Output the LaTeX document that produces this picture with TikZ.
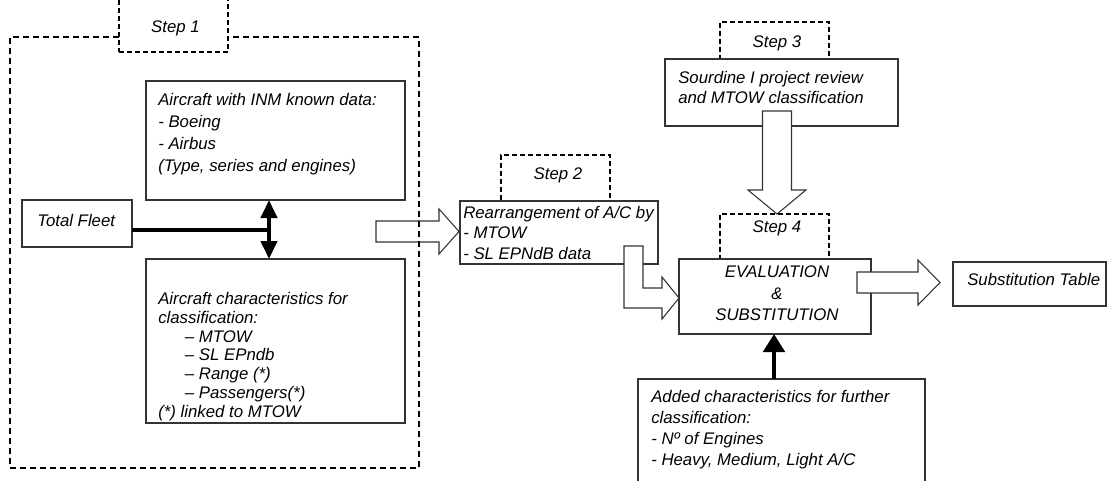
\documentclass[tikz,border=0pt]{standalone}
\usepackage{fontspec}
\setmainfont{Liberation Sans}
\usetikzlibrary{arrows.meta}
\tikzset{
  bigtip/.tip={Triangle[width=12pt,length=13.5pt]},
  widetip/.tip={Triangle[width=16pt,length=13.5pt]},
}

\begin{document}
\begin{tikzpicture}[x=0.75pt, y=-0.75pt,
  box/.style={draw=black!80, line width=0.8pt, fill=white, inner sep=0pt, outer sep=0pt},
  frame/.style={draw=black, line width=1.3pt, dash pattern=on 4.5pt off 3pt, inner sep=0pt, outer sep=0pt},
  tab/.style={draw=black, line width=0.9pt, dash pattern=on 3.5pt off 2.5pt, fill=white, inner sep=0pt, outer sep=0pt},
  sz/.style 2 args={minimum width=#1*0.75pt, minimum height=#2*0.75pt},
  txt/.style={inner sep=0pt, anchor=north west, align=left, font=\itshape\fontsize{12.6}{15.4}\selectfont},
  steplbl/.style={inner sep=0pt, anchor=base, font=\itshape\fontsize{12.6}{15.4}\selectfont},
  blockarrow/.style={draw=black!80, line width=0.8pt, fill=white, line join=miter},
  thick link/.style={line width=3pt, draw=black},
]
\useasboundingbox (0,0) rectangle (1107,480);
\clip (0,0) rectangle (1107,480);

% Step 1 -> Step 2 block arrow (crosses the dashed frame)
\draw[blockarrow, fill=none] (376,221) -- (439,221) -- (439,209) -- (459,231.5)
  -- (439,254) -- (439,242) -- (376,242) -- cycle;

% Step 1 frame and its tab
\node[frame, sz={409}{431}] (frame1) at (214.5,252.5) {};
\node[tab, sz={109}{57}] (tab1) at (173.5,23.5) {};
\node[steplbl] (tab1-t) at (175.5,32) {Step 1};

% Step 1 contents
\node[box, sz={259}{119}] (A) at (275.5,140.5) {};
\node[txt, font=\itshape\fontsize{12.6}{16.5}\selectfont] (A-t) at (158,93)
  {Aircraft with INM known data:\\- Boeing\\- Airbus\\(Type, series and engines)};

\node[box, sz={110}{47}] (fleet) at (77,223.5) {};
\node[txt] (fleet-t) at (37,214) {Total Fleet};

\node[box, sz={259}{164}] (B) at (275.5,341) {};
\node[txt, font=\itshape\fontsize{12.6}{14.1}\selectfont] (B-t) at (158,292)
  {Aircraft characteristics for\\classification:\\
   \hspace*{20pt}– MTOW\\\hspace*{20pt}– SL EPndb\\\hspace*{20pt}– Range (*)\\
   \hspace*{20pt}– Passengers(*)\\(*) linked to MTOW};

% links inside Step 1
\coordinate (j) at (269,230);
\draw[thick link] (fleet.east |- j) -- (j);
\draw[thick link, bigtip-bigtip] (A.south -| j) -- (B.north -| j);

% Step 2
\node[tab, sz={109}{46}] (tab2) at (555.5,178) {};
\node[steplbl] (tab2-t) at (558,179) {Step 2};
\node[box, sz={198}{63}] (s2) at (559,232.5) {};
\node[txt] (s2-t) at (463,206) {Rearrangement of A/C by\\- MTOW\\- SL EPNdB data};

% Step 3
\node[tab, sz={109}{37}] (tab3) at (774.5,40.5) {};
\node[steplbl] (tab3-t) at (777,47) {Step 3};
\node[box, sz={233}{67}] (s3) at (781.5,92.5) {};
\node[txt, font=\itshape\fontsize{12.6}{15}\selectfont] (s3-t) at (678,71)
  {Sourdine I project review\\and MTOW classification};

% Step 4
\node[tab, sz={109}{45}] (tab4) at (774.5,236.5) {};
\node[steplbl] (tab4-t) at (777,232) {Step 4};
\node[box, sz={192}{75}] (eval) at (775,296.5) {};
\node[inner sep=0pt, align=center, font=\itshape\fontsize{12.6}{16.1}\selectfont] (eval-t)
  at (777,293.5) {EVALUATION\\\&\\SUBSTITUTION};

% output and extra inputs
\node[box, sz={153}{44}] (subst) at (1029.5,284) {};
\node[txt] (subst-t) at (967,273) {Substitution Table};

\node[box, sz={287}{116}] (added) at (781.5,437) {};
\node[txt, font=\itshape\fontsize{12.6}{15.75}\selectfont] (added-t) at (651,390)
  {Added characteristics for further\\classification:\\- Nº of Engines\\- Heavy, Medium, Light A/C};

% block arrows between steps
\draw[blockarrow] (762.5,111) -- (791.5,111) -- (791.5,190) -- (806,190)
  -- (777,214) -- (748,190) -- (762.5,190) -- cycle;
\draw[blockarrow] (624,246) -- (643,246) -- (643,288) -- (662,288) -- (662,277)
  -- (679,298) -- (662,319) -- (662,308) -- (624,308) -- cycle;
\draw[blockarrow] (857,272) -- (918,272) -- (918,260) -- (940,282.5)
  -- (918,305) -- (918,293) -- (857,293) -- cycle;

% added characteristics feed the evaluation
\coordinate (up) at (774,360);
\draw[thick link, -widetip] (added.north -| up) -- (eval.south -| up);
\end{tikzpicture}
\end{document}
